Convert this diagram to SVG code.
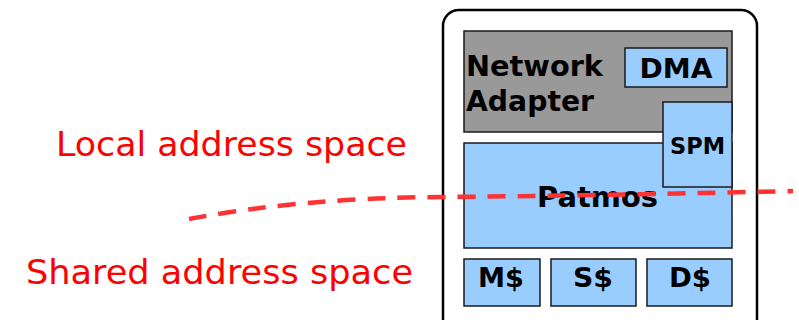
<svg xmlns="http://www.w3.org/2000/svg" width="799" height="320" viewBox="0 0 799 320">
<style>
.box{fill:#99ccff;stroke:#1a1a1a;stroke-width:1.5}
.lbl{font-family:"DejaVu Sans","Liberation Sans",sans-serif;font-weight:bold;fill:#000}
.red{font-family:"DejaVu Sans","Liberation Sans",sans-serif;fill:#ff0000;font-size:33px}
</style>
<g id="chip">
<rect x="443" y="10" width="314" height="330" rx="16" ry="16" fill="#fff" stroke="#000" stroke-width="2.5"/>
</g>
<g id="network-adapter">
<rect x="464" y="31" width="268" height="101" fill="#999999" stroke="#1a1a1a" stroke-width="1.5"/>
<text class="lbl" x="466" y="76" font-size="28.5" textLength="137" lengthAdjust="spacingAndGlyphs">Network</text>
<text class="lbl" x="466" y="111" font-size="28.5" textLength="128" lengthAdjust="spacingAndGlyphs">Adapter</text>
</g>
<g id="dma">
<rect class="box" x="625" y="48" width="102" height="39"/>
<text class="lbl" x="676" y="78" font-size="27" text-anchor="middle" textLength="73" lengthAdjust="spacingAndGlyphs">DMA</text>
</g>
<g id="patmos">
<rect class="box" x="464" y="143" width="268" height="105"/>
<text class="lbl" x="597.5" y="207" font-size="29" text-anchor="middle" textLength="121" lengthAdjust="spacingAndGlyphs">Patmos</text>
</g>
<g id="spm">
<rect class="box" x="663" y="102" width="69" height="85"/>
<text class="lbl" x="697.5" y="154" font-size="22.5" text-anchor="middle" textLength="55" lengthAdjust="spacingAndGlyphs">SPM</text>
</g>
<g id="mcache">
<rect class="box" x="464" y="259" width="76" height="47"/>
<text class="lbl" x="501" y="287" font-size="27" text-anchor="middle" textLength="46" lengthAdjust="spacingAndGlyphs">M$</text>
</g>
<g id="scache">
<rect class="box" x="551" y="259" width="85" height="47"/>
<text class="lbl" x="593" y="287" font-size="27" text-anchor="middle" textLength="40" lengthAdjust="spacingAndGlyphs">S$</text>
</g>
<g id="dcache">
<rect class="box" x="647" y="259" width="85" height="47"/>
<text class="lbl" x="690" y="287" font-size="27" text-anchor="middle" textLength="42" lengthAdjust="spacingAndGlyphs">D$</text>
</g>
<g id="labels">
<text class="red" x="56" y="156" textLength="351" lengthAdjust="spacingAndGlyphs">Local address space</text>
<text class="red" x="26" y="284" textLength="387" lengthAdjust="spacingAndGlyphs">Shared address space</text>
</g>
<g id="connectors">
<path d="M189,219 Q300,198 440,197 T793,191" fill="none" stroke="#ff3333" stroke-width="4.5" stroke-dasharray="18 12"/>
</g>
</svg>
